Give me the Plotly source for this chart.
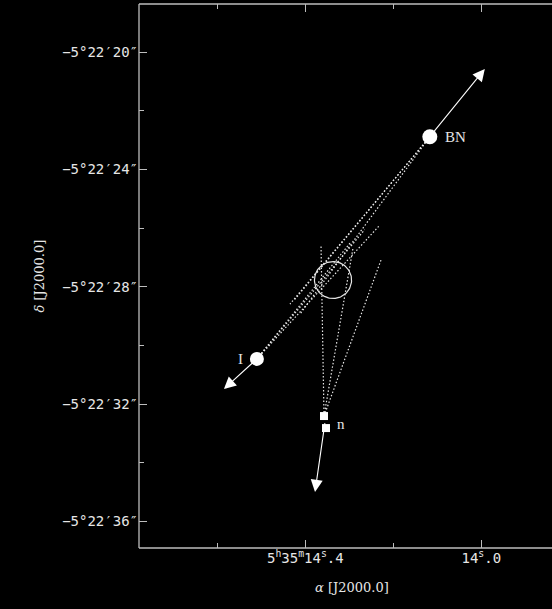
import numpy as np
import plotly.graph_objects as go

# Source positions: RA in seconds past 5h35m, Dec in arcsec past -5°22' (negative = south)
src_names = ["BN", "I", "n"]
src_ra = [14.117, 14.510, 14.355]
src_dec = [-22.88, -30.46, -32.60]

# Proper-motion arrow tips
tip_ra = [13.992, 14.585, 14.378]
tip_dec = [-20.57, -31.49, -35.00]

# Source n is resolved into two components
n_ra = [14.3575, 14.3530]
n_dec = [-32.41, -32.82]

# Back-extrapolated trajectory cones (dotted), one row per line
cone_src = ["BN", "BN", "BN", "I", "I", "I", "n", "n", "n"]
cone_end_ra = [14.4348, 14.4120, 14.4250, 14.2984, 14.2302, 14.2650, 14.3643, 14.2916, 14.2280]
cone_end_dec = [-28.59, -28.93, -28.45, -26.51, -25.89, -26.05, -26.58, -26.68, -27.09]

# Common point of origin
origin_ra, origin_dec, origin_r = 14.337, -27.77, 0.63

# Axis ticks
y_tickvals = [-20, -24, -28, -32, -36]
y_ticktext = ["\u22125\u00b022\u203220\u2033", "\u22125\u00b022\u203224\u2033",
              "\u22125\u00b022\u203228\u2033", "\u22125\u00b022\u203232\u2033",
              "\u22125\u00b022\u203236\u2033"]
y_minor = [-22, -26, -30, -34]
x_tickvals = [14.4, 14.0]
x_ticktext = ["5<sup>h</sup>35<sup>m</sup>14<sup>s</sup>.4", "14<sup>s</sup>.0"]
x_minor = [14.6, 14.2]

FG = "#e6e6e6"
AX = "#bdbdbd"
cosd = np.cos(np.deg2rad(5 + 22.5 / 60))
# plot area spans 139..548 px; frame lines run on to the page edge
DOM = 409 / 413
X_RANGE = [14.778, 14.778 - (14.778 - 13.8393) * DOM]
Y_RANGE = [-36.912, -18.352]

fig = go.Figure()

# dotted cone lines
lookup = {"BN": (src_ra[0], src_dec[0]), "I": (src_ra[1], src_dec[1]), "n": (n_ra[0], n_dec[0])}
for s, ex, ey in zip(cone_src, cone_end_ra, cone_end_dec):
    sx, sy = lookup[s]
    fig.add_trace(go.Scatter(x=[sx, ex], y=[sy, ey], mode="lines",
                             line=dict(color=FG, width=1.2, dash="1.5px,2px"),
                             hoverinfo="skip", showlegend=False))

# origin circle
th = np.linspace(0, 2 * np.pi, 120)
fig.add_trace(go.Scatter(x=origin_ra + origin_r / (15 * cosd) * np.cos(th),
                         y=origin_dec + origin_r * np.sin(th), mode="lines",
                         line=dict(color=FG, width=1.2), hoverinfo="skip", showlegend=False))

# sources
fig.add_trace(go.Scatter(x=src_ra[:2], y=src_dec[:2], mode="markers",
                         marker=dict(size=[15, 14], color="#ffffff", opacity=1,
                                     line=dict(width=0)),
                         hoverinfo="skip", showlegend=False))
fig.add_trace(go.Scatter(x=n_ra, y=n_dec, mode="markers",
                         marker=dict(size=8, color="#ffffff", symbol="square"),
                         hoverinfo="skip", showlegend=False))

# an invisible trace on the top axis so its ticks are drawn
fig.add_trace(go.Scatter(x=[X_RANGE[0]], y=[Y_RANGE[0]], xaxis="x2", mode="markers",
                         marker=dict(size=0, opacity=0), hoverinfo="skip", showlegend=False))

annotations = []
# proper-motion arrows
for i in range(3):
    annotations.append(dict(x=tip_ra[i], y=tip_dec[i], ax=src_ra[i], ay=src_dec[i],
                            xref="x", yref="y", axref="x", ayref="y", text="",
                            showarrow=True, arrowhead=2, arrowsize=2.2, arrowwidth=1.1,
                            arrowcolor="white", standoff=0, startstandoff=0))
# source labels
lab_shift = {"BN": (13, 0, "left"), "I": (-16, 0, "center"), "n": (16, -2, "center")}
for name, rx, dy in zip(src_names, src_ra, src_dec):
    xs, ys, xa = lab_shift[name]
    annotations.append(dict(x=rx, y=dy, xref="x", yref="y", text=name, showarrow=False,
                            xshift=xs, yshift=ys, xanchor=xa,
                            font=dict(family="Liberation Serif", size=15, color=FG)))
# axis titles
annotations.append(dict(x=(352 - 139) / 413, y=-0.09, xref="paper", yref="paper",
                        text="<i>\u03b1</i> [J2000.0]", showarrow=False,
                        font=dict(family="DejaVu Serif", size=13, color=FG)))
annotations.append(dict(x=(29 - 139) / 413, y=0.5, xref="paper", yref="paper",
                        text="<i>\u03b4</i> [J2000.0]", showarrow=False, textangle=-90,
                        font=dict(family="DejaVu Serif", size=13, color=FG)))

# frame: left, bottom and top edges (the right edge lies beyond the page)
shapes = []
for x0, x1, y0, y1 in [(0, 0, 0, 1), (0, 1.0, 0, 0), (0, 1.0, 1, 1)]:
    shapes.append(dict(type="line", xref="paper", yref="paper", x0=x0, x1=x1, y0=y0, y1=y1,
                       line=dict(color=AX, width=1.3), layer="above"))

tickfont = dict(family="DejaVu Sans Mono", size=14, color=FG)
common = dict(showgrid=False, zeroline=False, showline=False,
              ticks="inside", ticklen=8, tickcolor=AX, tickwidth=1)
fig.update_layout(
    width=552, height=609,
    paper_bgcolor="black", plot_bgcolor="black",
    margin=dict(l=139, r=0, t=4, b=61),
    showlegend=False,
    annotations=annotations,
    shapes=shapes,
    xaxis=dict(range=X_RANGE, domain=[0, DOM], tickvals=x_tickvals, ticktext=x_ticktext,
               tickfont=tickfont,
               minor=dict(tickvals=x_minor, ticks="inside", ticklen=5, tickcolor=AX, showgrid=False),
               **common),
    xaxis2=dict(range=X_RANGE, domain=[0, DOM], overlaying="x", side="top", anchor="y",
                tickvals=x_tickvals, showticklabels=False,
                minor=dict(tickvals=x_minor, ticks="inside", ticklen=5, tickcolor=AX, showgrid=False),
                **common),
    yaxis=dict(range=Y_RANGE, tickvals=y_tickvals, ticktext=y_ticktext, tickfont=tickfont,
               minor=dict(tickvals=y_minor, ticks="inside", ticklen=5, tickcolor=AX, showgrid=False),
               **common),
)

fig.write_html("out.html", config={"staticPlot": True})
